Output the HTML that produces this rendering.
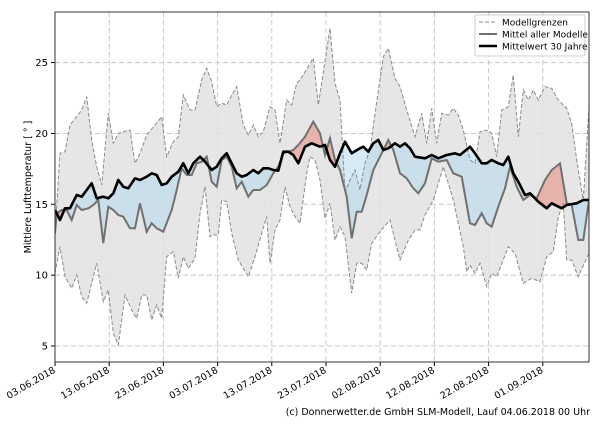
<!DOCTYPE html>
<html><head><meta charset="utf-8"><style>
body{margin:0;background:#fff;width:600px;height:420px;overflow:hidden;font-family:"Liberation Sans","DejaVu Sans",sans-serif}
</style></head><body>
<svg id="s" width="600" height="420" xmlns="http://www.w3.org/2000/svg" font-family="DejaVu Sans, Liberation Sans, sans-serif"></svg>
<script>
const z2={up:[45,700,60,460,75,455,90,375,110,350,125,330,140,290,155,420,170,500,185,555,205,340,220,430,235,400,270,390,285,490,300,460,320,405,345,375,365,350,380,470,400,425,415,410,430,285,450,330,465,330,485,240,500,205,515,245,530,320,545,310,560,315,575,285,590,260,610,375,625,405,640,375,655,410,670,395,690,320,705,330,720,430,740,300,755,315,770,250],
lo:[45,820,60,740,75,830,95,865,110,825,125,890,140,910,170,790,190,905,205,870,220,1000,235,1035,255,885,275,930,290,955,305,885,320,885,335,960,350,915,365,955,380,770,400,755,415,835,430,770,445,805,465,775,480,640,495,560,510,710,520,705,535,705,545,600,560,605,575,700,595,780,625,830,645,770,665,700,680,650,690,790,705,690,720,660,735,560,750,620,765,650,780,670],
mm:[45,700,50,640,65,630,80,630,95,660,110,615,125,630,145,625,160,615,175,600,190,730,205,620,220,630,235,645,250,650,270,685,285,685,300,610,320,695,335,670,350,685,370,695,395,630,410,570,425,505,440,525,455,525,470,490,485,485,500,470,515,545,530,560,545,480,560,470,575,500,590,565,605,545,625,590,640,570,660,570,680,555,700,520,715,500,730,460,745,455,760,450,775,435],
ty:[45,630,60,660,75,625,90,625,110,585,125,590,140,570,155,550,170,595,190,590,205,595,220,580,235,540,250,560,265,565,285,535,300,540,320,530,335,520,350,525,365,555,380,550,395,530,415,515,430,490,445,520,460,490,480,470,495,485,515,510,530,500,545,475,560,460,575,490,590,520,605,530,620,525,640,510,655,520,670,505,685,505,700,510,715,512,730,455,745,455,760,465,775,490]};
const z3={up:[0,240,40,175,55,315,90,85,105,250,120,300,135,576,150,540,165,510,180,570,195,489,210,450,231,300,250,170,265,145,285,235,300,260,320,330,345,410,365,340,380,430,395,325,410,430,425,340,445,345,460,325,475,345,490,390,510,480,525,490,540,395,560,390,575,400,590,470,605,330,625,320,640,225,655,410,670,270,685,300,700,270,715,300,735,260,755,265,775,300,800,325,815,370,830,480,850,600,868,320],
lo:[20,520,30,470,45,480,60,540,75,655,90,610,105,720,120,680,135,710,155,880,170,790,185,790,200,810,215,730,240,695,270,660,300,780,325,720,345,690,360,690,375,645,400,600,430,500,460,600,490,740,500,815,510,795,525,820,540,790,560,860,575,820,590,830,625,740,645,760,670,850,695,835,720,845,740,770,760,755,775,650,790,610,800,780,815,780,835,830,868,760],
mm:[15,410,40,365,60,400,75,465,90,415,105,480,120,510,140,590,155,715,170,635,185,635,200,585,220,510,240,470,265,420,280,450,300,520,320,535,340,565,355,580,375,550,395,475,415,485,440,480,460,520,485,530,510,670,525,675,545,640,560,670,575,680,595,620,615,565,630,500,650,560,670,600,690,585,710,595,735,540,755,510,780,490,800,610,815,615,835,720,850,720,868,600],
ty:[15,440,35,430,60,440,75,435,90,480,105,500,120,460,135,425,155,460,180,445,190,440,205,455,220,430,235,420,250,450,265,445,285,430,300,440,315,430,330,445,345,470,375,475,395,465,415,475,440,465,465,460,480,465,510,440,525,460,545,490,560,490,575,480,595,490,610,495,625,470,640,520,655,545,675,585,690,580,715,605,740,625,755,610,785,625,800,615,830,610,850,600,868,600]};
function pts(k){const a=[];const p=z2[k];for(let i=0;i<p.length;i+=2)a.push([40+p[i]/3,p[i+1]/3]);const q=z3[k];for(let i=0;i<q.length;i+=2)a.push([300+q[i]/3,q[i+1]/3]);a[0][0]=55;a[a.length-1][0]=589;return a;}
const P=a=>a.map(p=>p[0].toFixed(1)+','+p[1].toFixed(1)).join(' ');
const up=pts('up'),lo=pts('lo'),mm=pts('mm'),ty=pts('ty');
const L=55,R=589,T=12,B=362;
let h='';
h+=`<defs><clipPath id="pa"><rect x="${L}" y="${T}" width="${R-L}" height="${B-T}"/></clipPath>
<clipPath id="below"><polygon points="${P(ty)} ${R},${B} ${L},${B}"/></clipPath>
<clipPath id="above"><polygon points="${P(ty)} ${R},${T} ${L},${T}"/></clipPath></defs>`;
const yv=v=>346-(v-5)*14.17;
for(const v of [5,10,15,20,25]){const y=yv(v);h+=`<line x1="${L}" x2="${R}" y1="${y}" y2="${y}" stroke="#c8c8c8" stroke-dasharray="5,3" stroke-width="1"/>`;
h+=`<line x1="${L-4}" x2="${L}" y1="${y}" y2="${y}" stroke="#000"/><text x="${L-7}" y="${y+3.5}" font-size="10" text-anchor="end" fill="#000">${v}</text>`;}
const labs=['03.06.2018','13.06.2018','23.06.2018','03.07.2018','13.07.2018','23.07.2018','02.08.2018','12.08.2018','22.08.2018','01.09.2018'];
labs.forEach((t,i)=>{const x=55+i*54.2;h+=`<line x1="${x}" x2="${x}" y1="${T}" y2="${B}" stroke="#c8c8c8" stroke-dasharray="5,3"/>`;
h+=`<line x1="${x}" x2="${x}" y1="${B}" y2="${B+4}" stroke="#000"/><text transform="translate(${x+1},${B+10}) rotate(-30)" font-size="9.5" text-anchor="end" fill="#000">${t}</text>`;});
h+=`<g clip-path="url(#pa)">`;
h+=`<polygon points="${P(up)} ${P(lo.slice().reverse())}" fill="#e2e2e2" fill-opacity="0.85"/>`;
const band=`${P(ty)} ${P(mm.slice().reverse())}`;
h+=`<polygon points="${band}" fill="rgb(173,216,235)" fill-opacity="0.5" clip-path="url(#below)"/>`;
h+=`<polygon points="${band}" fill="rgb(230,120,100)" fill-opacity="0.45" clip-path="url(#above)"/>`;
h+=`<polyline points="${P(up)}" fill="none" stroke="#8a8a8a" stroke-width="1" stroke-dasharray="4,2"/>`;
h+=`<polyline points="${P(lo)}" fill="none" stroke="#8a8a8a" stroke-width="1" stroke-dasharray="4,2"/>`;
h+=`<polyline points="${P(mm)}" fill="none" stroke="#707070" stroke-width="2"/>`;
h+=`<polyline points="${P(ty)}" fill="none" stroke="#000" stroke-width="2.6" stroke-linejoin="round"/>`;
h+=`</g><rect x="${L}" y="${T}" width="${R-L}" height="${B-T}" fill="none" stroke="#333" stroke-width="1"/>`;
h+=`<text transform="translate(31,187) rotate(-90)" font-size="9.5" text-anchor="middle">Mittlere Lufttemperatur [ ° ]</text>`;
h+=`<rect x="475" y="15" width="110" height="41" fill="#fff" fill-opacity="0.85" stroke="#ccc" rx="2"/>`;
h+=`<line x1="479" x2="497" y1="22" y2="22" stroke="#8a8a8a" stroke-dasharray="4,2"/><text x="502" y="25.5" font-size="9">Modellgrenzen</text>`;
h+=`<line x1="479" x2="497" y1="34" y2="34" stroke="#707070" stroke-width="2"/><text x="502" y="37.5" font-size="9">Mittel aller Modelle</text>`;
h+=`<line x1="479" x2="497" y1="46" y2="46" stroke="#000" stroke-width="2.6"/><text x="502" y="49.5" font-size="9">Mittelwert 30 Jahre</text>`;
h+=`<text x="590" y="415" font-size="9.5" text-anchor="end">(c) Donnerwetter.de GmbH SLM-Modell, Lauf 04.06.2018 00 Uhr</text>`;
document.getElementById('s').innerHTML=h;
</script>
</body></html>
